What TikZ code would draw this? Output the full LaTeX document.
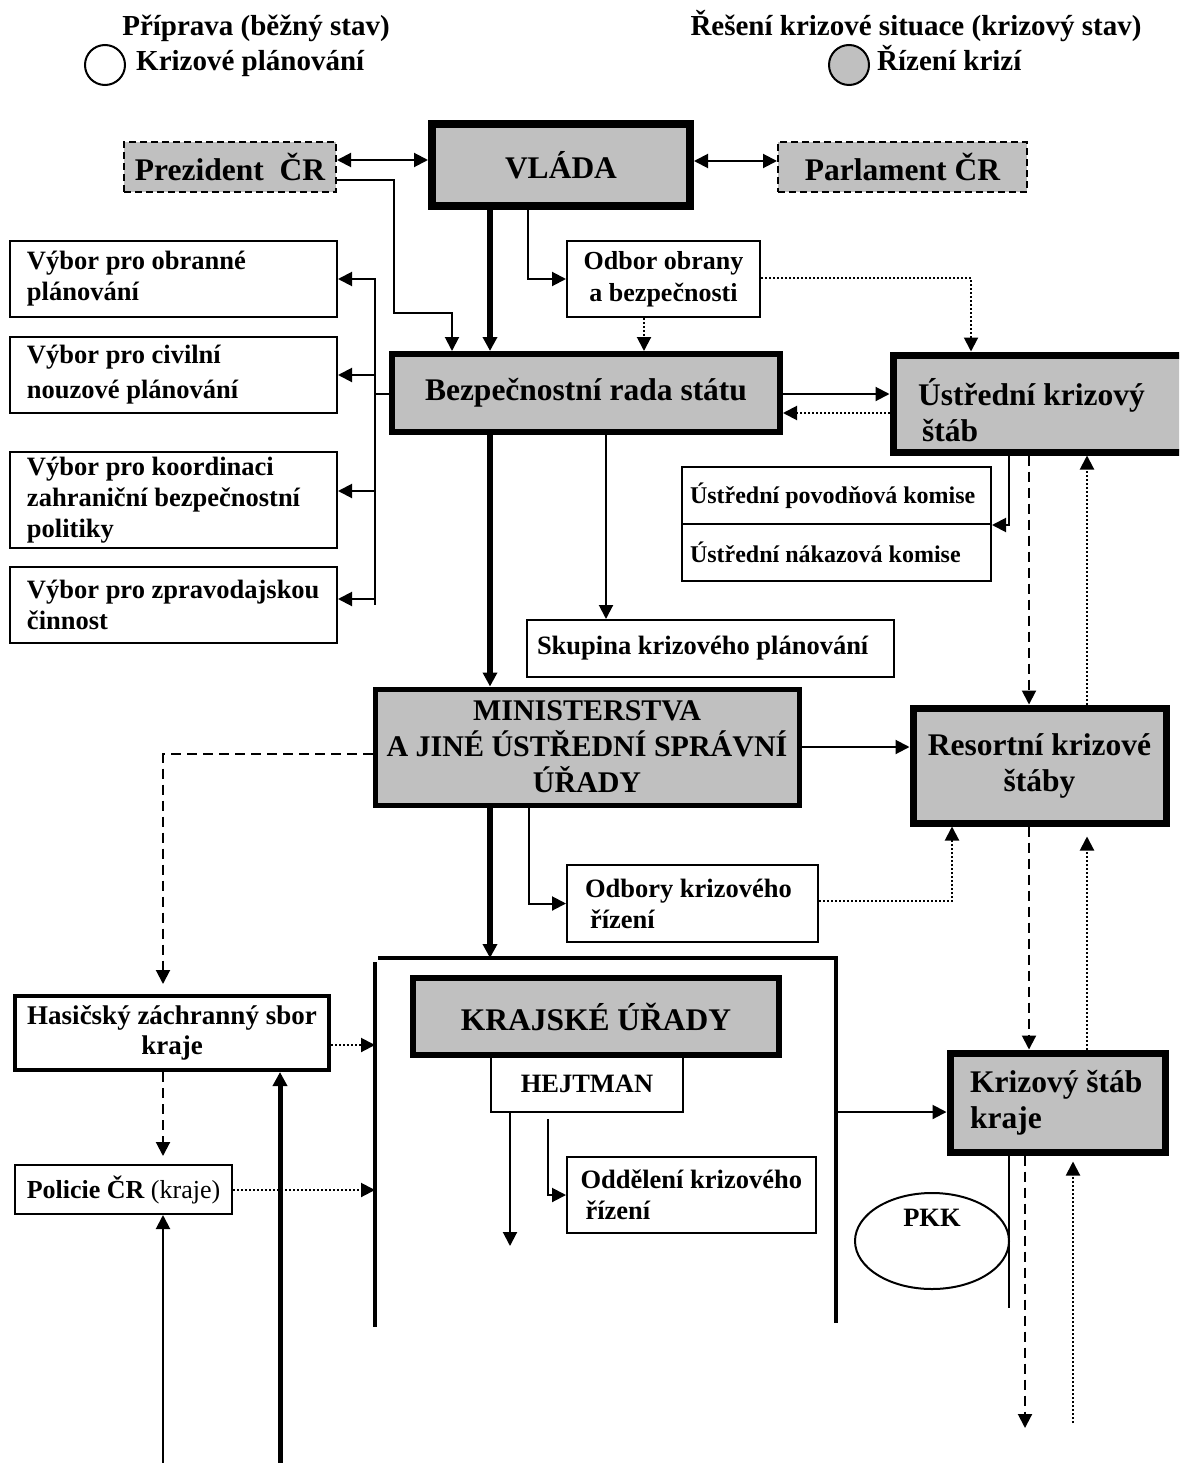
\documentclass[tikz,border=0pt]{standalone}
\usepackage{fontspec}
\setmainfont{Liberation Serif}
\usetikzlibrary{arrows.meta,shapes.geometric}
\definecolor{kgray}{RGB}{192,192,192}
\hyphenpenalty=10000
\exhyphenpenalty=10000
\newcommand\fbig{\fontsize{31.5}{36}\selectfont\bfseries}
\newcommand\fmin{\fontsize{30}{36}\selectfont\bfseries}
\newcommand\fmed{\fontsize{26.5}{31}\selectfont\bfseries}
\newcommand\fmedb{\fontsize{26.5}{35}\selectfont\bfseries}
\newcommand\fsml{\fontsize{24}{28}\selectfont\bfseries}
\newcommand\fleg{\fontsize{29}{34}\selectfont\bfseries}
\begin{document}
\begin{tikzpicture}[x=1pt,y=-1pt,
  >={Triangle[length=14pt,width=14pt]},
  every node/.style={inner sep=0pt},
  thinbox/.style={draw,line width=2pt,fill=white,font=\fmed},
  gbox/.style={draw,line width=#1,fill=kgray,font=\fbig},
  gbox/.default=7pt,
  dbox/.style={draw,line width=2pt,dash pattern=on 7pt off 4pt,fill=kgray,font=\fbig},
  conn/.style={line width=2pt},
  heavy/.style={line width=6pt},
  dots/.style={line width=2pt,dash pattern=on 2pt off 2pt},
  dashes/.style={line width=2pt,dash pattern=on 10pt off 6pt},
  frame/.style={line width=4pt}]
\useasboundingbox (0,0) rectangle (1179,1463);
\clip (0,0) rectangle (1179,1463);

% legend
\node[font=\fleg,anchor=base] (leg1) at (256,36) {Příprava (běžný stav)};
\node[draw,circle,line width=2pt,minimum size=40pt,fill=white] (c1) at (105,65) {};
\node[font=\fleg,anchor=base west] (leg2) at (136,71) {Krizové plánování};
\node[font=\fleg,anchor=base] (leg3) at (916,36) {Řešení krizové situace (krizový stav)};
\node[draw,circle,line width=2pt,minimum size=40pt,fill=kgray] (c2) at (849,65) {};
\node[font=\fleg,anchor=base west] (leg4) at (877,71) {Řízení krizí};

% top row
\node[dbox,minimum width=212pt,minimum height=50pt] (prez) at (230,167) {Prezident\ \ ČR};
\node[gbox=8pt,minimum width=258pt,minimum height=82pt] (vlada) at (561,165) {VLÁDA};
\node[dbox,minimum width=249pt,minimum height=50pt] (parl) at (902.5,167) {Parlament ČR};

\node[thinbox,minimum width=193pt,minimum height=76pt,align=flush center,font=\fontsize{26}{32}\selectfont\bfseries] (odbor) at (663.5,279) {Odbor obrany\\a bezpečnosti};

% committees
\node[thinbox,minimum width=327pt,minimum height=76pt,text width=293pt,align=flush left] (vyb1) at (173.5,279) {Výbor pro obranné\\plánování};
\node[thinbox,minimum width=327pt,minimum height=76pt,text width=293pt,align=flush left,font=\fmedb] (vyb2) at (173.5,375) {Výbor pro civilní\\nouzové plánování};
\node[thinbox,minimum width=327pt,minimum height=96pt,text width=293pt,align=flush left] (vyb3) at (173.5,500) {Výbor pro koordinaci\\zahraniční bezpečnostní\\politiky};
\node[thinbox,minimum width=327pt,minimum height=76pt,text width=293pt,align=flush left] (vyb4) at (173.5,604.5) {Výbor pro zpravodajskou\\činnost};

% security council and staff
\node[gbox=6pt,minimum width=388pt,minimum height=78pt] (brs) at (586,393) {Bezpečnostní rada státu};
\node[gbox=7pt,minimum width=293pt,minimum height=97pt] (ucs) at (1039.5,403.5) {};
\node[font=\fbig,align=flush left,anchor=west] (ucst) at (918,410) {Ústřední krizový\\\hspace*{4pt}štáb};

\node[thinbox,font=\fsml,minimum width=309pt,minimum height=57pt,text width=293pt,align=flush left] (upk) at (836.5,495.5) {Ústřední povodňová komise};
\node[thinbox,font=\fsml,minimum width=309pt,minimum height=57pt,text width=293pt,align=flush left] (unk) at (836.5,552.5) {Ústřední nákazová komise};

\node[thinbox,minimum width=367pt,minimum height=57pt,text width=347pt,align=flush left] (skup) at (710.5,648.5) {Skupina krizového plánování};

% ministries
\node[gbox=5pt,font=\fmin,minimum width=424pt,minimum height=116pt,align=flush center] (min) at (587,747) {MINISTERSTVA\\A JINÉ ÚSTŘEDNÍ SPRÁVNÍ\\ÚŘADY};
\node[gbox=7pt,minimum width=253pt,minimum height=115pt,align=flush center] (res) at (1039.5,765.5) {Resortní krizové\\štáby};
\node[thinbox,minimum width=251pt,minimum height=77pt,text width=215pt,align=flush left] (odbk) at (692.5,903.5) {Odbory krizového\\\hspace*{5pt}řízení};

% regions
\node[thinbox,minimum width=192pt,minimum height=57pt] (hejt) at (587,1083.5) {HEJTMAN};
\node[gbox=6pt,minimum width=366pt,minimum height=77pt] (kraj) at (596,1016.5) {KRAJSKÉ ÚŘADY};
\node[thinbox,minimum width=249pt,minimum height=76pt,text width=222pt,align=flush left] (odd) at (691.5,1195) {Oddělení krizového\\\hspace*{5pt}řízení};

\node[draw,line width=4pt,fill=white,font=\fontsize{27}{30}\selectfont\bfseries,minimum width=314pt,minimum height=74pt,align=flush center] (hzs) at (172,1033) {Hasičský záchranný sbor\\kraje};
\node[thinbox,font=\fontsize{26}{30}\selectfont\bfseries,minimum width=217pt,minimum height=49pt] (pol) at (123.5,1189.5) {Policie ČR {\mdseries(kraje)}};

\node[gbox=7pt,minimum width=215pt,minimum height=99pt,text width=175pt,align=flush left] (ksk) at (1057.5,1102.5) {Krizový štáb\\kraje};
\node[draw,ellipse,line width=2pt,minimum width=154pt,minimum height=96pt] (pkk) at (932,1241) {};
\node[font=\fmed] (pkkt) at (932,1218) {PKK};

% frame of the regional offices
\coordinate (fTL) at (375,958);
\coordinate (fTR) at (836,958);
\coordinate (fBL) at (375,1327);
\coordinate (fBR) at (836,1323);
\draw[frame] (fTL) ++(3,0) -- (fTR) -- (fBR);
\draw[frame] (fTL) ++(0,4) -- (fBL);

% connectors, top
\draw[conn,<->] (prez.east |- 0,160) -- (vlada.west |- 0,160);
\draw[conn,<->] (vlada.east |- 0,161) -- (parl.west |- 0,161);
\draw[conn,->] (prez.east |- 0,180) -- (394,180) -- (394,313) -- (452,313) -- (brs.north -| 452,0);
\draw[heavy,->] (vlada.south -| 490,0) -- (brs.north -| 490,0);
\draw[conn,->] (vlada.south -| 528,0) |- (odbor.west);
\draw[dots,->] (odbor.south -| 644,0) -- (brs.north -| 644,0);
\draw[dots,->] (odbor.east |- 0,278) -| (ucs.north -| 971,0);

% committees bus
\coordinate (busT) at (375,278);
\coordinate (busB) at (375,605);
\draw[conn] (busT) -- (busB);
\draw[conn] (brs.west |- 0,394) -- (busT |- 0,394);
\draw[conn,->] (busT |- 0,279) -- (vyb1.east |- 0,279);
\draw[conn,->] (busT |- 0,375) -- (vyb2.east |- 0,375);
\draw[conn,->] (busT |- 0,491) -- (vyb3.east |- 0,491);
\draw[conn,->] (busT |- 0,599) -- (vyb4.east |- 0,599);

% council and central staff
\draw[conn,->] (brs.east |- 0,394) -- (ucs.west |- 0,394);
\draw[dots,->] (ucs.west |- 0,413) -- (brs.east |- 0,413);
\draw[conn,->] (ucs.south -| 1009,0) |- (upk.south east);
\draw[dashes,->] (ucs.south -| 1029,0) -- (res.north -| 1029,0);
\draw[dots,->] (res.north -| 1087,0) -- (ucs.south -| 1087,0);
\draw[heavy,->] (brs.south -| 490,0) -- (min.north -| 490,0);
\draw[conn,->] (brs.south -| 606,0) -- (skup.north -| 606,0);

% ministries
\draw[conn,->] (min.east |- 0,747) -- (res.west |- 0,747);
\draw[dashes,->,shorten >=10pt] (min.west |- 0,754) -| (hzs.north -| 163,0);
\draw[heavy,->] (min.south -| 490,0) -- (fTL -| 490,0);
\draw[conn,->] (min.south -| 529,0) |- (odbk.west);
\draw[dots,->] (odbk.east |- 0,901) -| (res.south -| 952,0);
\draw[dashes,->] (res.south -| 1029,0) -- (ksk.north -| 1029,0);
\draw[dots,->,shorten >=10pt] (ksk.north -| 1087,0) -- (res.south -| 1087,0);

% regions
\draw[conn,->] (fTR |- 0,1112) -- (ksk.west |- 0,1112);
\draw[conn,->] (hejt.south -| 510,0) -- ++(0,133);
\draw[conn,->] (hejt.south -| 548,0) ++(0,6) |- (odd.west);
\draw[dots,->] (hzs.east |- 0,1045) -- (fTL |- 0,1045);
\draw[dashes,->,shorten >=8pt] (hzs.south -| 163,0) -- (pol.north -| 163,0);
\draw[dots,->] (pol.east |- 0,1190) -- (fTL |- 0,1190);
\coordinate (bot1) at (163,1463);
\coordinate (bot2) at (280,1463);
\draw[conn,->] (bot1) -- (pol.south -| bot1);
\draw[line width=5pt,->] (bot2) -- (hzs.south -| bot2);
\coordinate (kskA) at (1009,1308);
\coordinate (kskB) at (1025,1428);
\coordinate (kskC) at (1073,1423);
\draw[conn] (ksk.south -| kskA) -- (kskA);
\draw[dashes,->] (ksk.south -| kskB) -- (kskB);
\draw[dots,->,shorten >=6pt] (kskC) -- (ksk.south -| kskC);
\end{tikzpicture}
\end{document}
